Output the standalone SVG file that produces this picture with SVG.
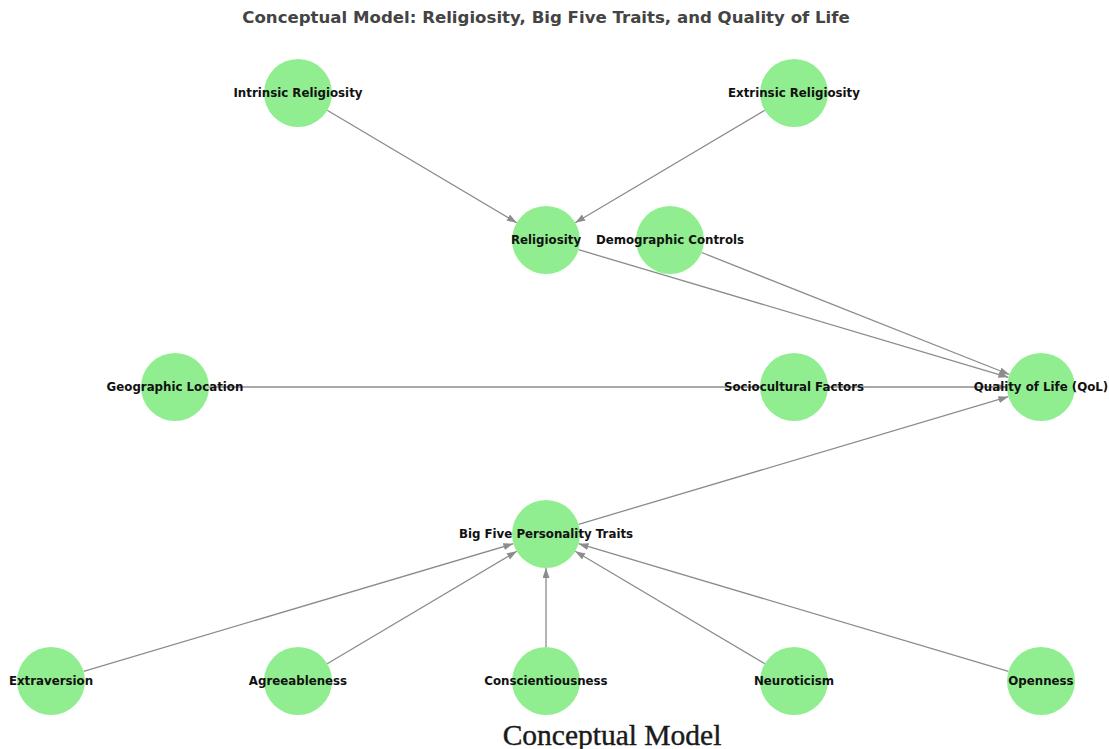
<svg xmlns="http://www.w3.org/2000/svg" width="1109" height="749" viewBox="0 0 1109 749">
<style>
.node circle{fill:#90ee90;}
.node text{font-family:"DejaVu Sans",sans-serif;font-weight:bold;font-size:11.8px;fill:#111;text-anchor:middle;dominant-baseline:central;}
.edge{stroke:#8c8c8c;stroke-width:1.3;fill:none;marker-end:url(#arr);}
.title{font-family:"DejaVu Sans",sans-serif;font-weight:bold;font-size:16.6px;fill:#444;text-anchor:middle;}
.caption{font-family:"Liberation Serif",serif;font-size:29.5px;fill:#1a1a1a;stroke:#1a1a1a;stroke-width:0.4;text-anchor:middle;}
</style>
<defs>
<marker id="arr" markerUnits="userSpaceOnUse" markerWidth="10" markerHeight="8" refX="10" refY="3.5" orient="auto">
<path d="M0,0 L10,3.5 L0,7 z" fill="#8c8c8c"/>
</marker>
</defs>
<rect width="1109" height="749" fill="#fff"/>
<text class="title" x="546" y="23">Conceptual Model: Religiosity, Big Five Traits, and Quality of Life</text>
<g id="connectors">
<line class="edge" x1="327.2" y1="110.3" x2="516.8" y2="222.7"/>
<line class="edge" x1="764.8" y1="110.3" x2="575.2" y2="222.7"/>
<line class="edge" x1="578.6" y1="249.7" x2="1008.4" y2="377.3"/>
<line class="edge" x1="701.6" y1="252.5" x2="1009.4" y2="374.5"/>
<line class="edge" x1="209" y1="387" x2="1007" y2="387"/>
<line class="edge" x1="578.6" y1="524.3" x2="1008.4" y2="396.7"/>
<line class="edge" x1="83.6" y1="671.3" x2="513.4" y2="543.7"/>
<line class="edge" x1="327.2" y1="663.7" x2="516.8" y2="551.3"/>
<line class="edge" x1="546" y1="647" x2="546" y2="568"/>
<line class="edge" x1="764.8" y1="663.7" x2="575.2" y2="551.3"/>
<line class="edge" x1="1008.4" y1="671.3" x2="578.6" y2="543.7"/>
</g>
<g id="n-intrinsic" class="node"><circle cx="298" cy="93" r="34"/><text x="298" y="93">Intrinsic Religiosity</text></g>
<g id="n-extrinsic" class="node"><circle cx="794" cy="93" r="34"/><text x="794" y="93">Extrinsic Religiosity</text></g>
<g id="n-religiosity" class="node"><circle cx="546" cy="240" r="34"/><text x="546" y="240">Religiosity</text></g>
<g id="n-demographic" class="node"><circle cx="670" cy="240" r="34"/><text x="670" y="240">Demographic Controls</text></g>
<g id="n-geographic" class="node"><circle cx="175" cy="387" r="34"/><text x="175" y="387">Geographic Location</text></g>
<g id="n-sociocultural" class="node"><circle cx="794" cy="387" r="34"/><text x="794" y="387">Sociocultural Factors</text></g>
<g id="n-qol" class="node"><circle cx="1041" cy="387" r="34"/><text x="1041" y="387">Quality of Life (QoL)</text></g>
<g id="n-bigfive" class="node"><circle cx="546" cy="534" r="34"/><text x="546" y="534">Big Five Personality Traits</text></g>
<g id="n-extraversion" class="node"><circle cx="51" cy="681" r="34"/><text x="51" y="681">Extraversion</text></g>
<g id="n-agreeableness" class="node"><circle cx="298" cy="681" r="34"/><text x="298" y="681">Agreeableness</text></g>
<g id="n-conscientiousness" class="node"><circle cx="546" cy="681" r="34"/><text x="546" y="681">Conscientiousness</text></g>
<g id="n-neuroticism" class="node"><circle cx="794" cy="681" r="34"/><text x="794" y="681">Neuroticism</text></g>
<g id="n-openness" class="node"><circle cx="1041" cy="681" r="34"/><text x="1041" y="681">Openness</text></g>
<text class="caption" x="612" y="745">Conceptual Model</text>
</svg>
